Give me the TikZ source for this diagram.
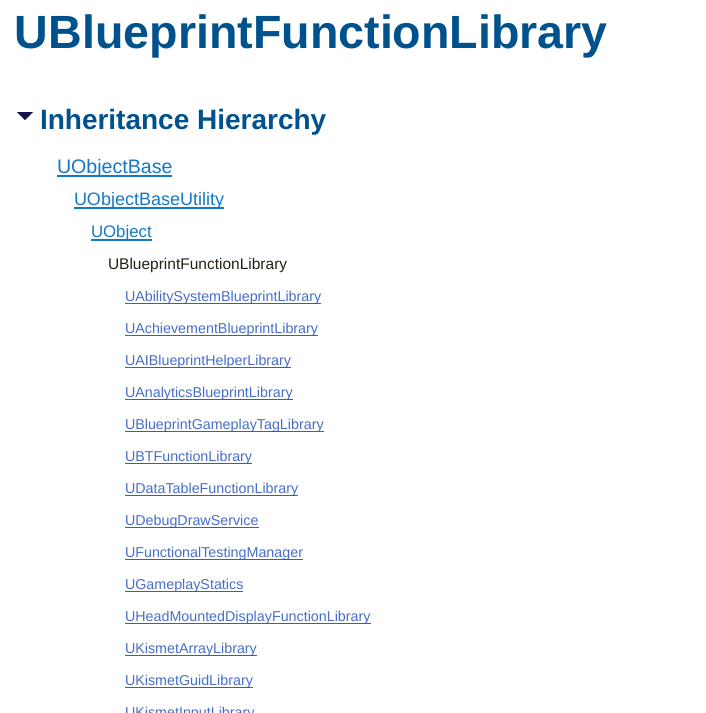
\documentclass[tikz,border=0pt]{standalone}
\usepackage{fontspec}
\setmainfont{Liberation Sans}
\definecolor{titleblue}{RGB}{0,82,140}
\definecolor{navy}{RGB}{20,20,80}
\definecolor{linkblue}{RGB}{20,120,195}
\definecolor{subblue}{RGB}{70,110,200}
\definecolor{ulblue}{RGB}{0,120,200}
\definecolor{plain}{RGB}{40,30,20}
\tikzset{
    every node/.style={inner sep=0pt, outer sep=0pt, anchor=base west},
    title/.style={text=titleblue, font=\fontsize{46.6}{46.6}\selectfont\bfseries},
    heading/.style={text=titleblue, font=\fontsize{28}{28}\selectfont\bfseries},
    link/.style={text=linkblue},
    sublink/.style={text=subblue, font=\fontsize{14.3}{14.3}\selectfont},
    ul/.style={line width=1.2pt},
}
\begin{document}
\begin{tikzpicture}[x=1pt,y=-1pt]
    \useasboundingbox (0,0) rectangle (705,713);
    \clip (0,0) rectangle (705,713);
    \node[title] (title) at (15,48) {UBlueprintFunctionLibrary};
    \fill[navy] (17,112) -- (33,112) -- (25,120) -- cycle;
    \node[heading] (inh) at (40,129) {Inheritance Hierarchy};
    % parents
    \node[link, font=\fontsize{19.6}{19.6}\selectfont] (base) at (57,173) {UObjectBase};
    \node[link, font=\fontsize{18}{18}\selectfont] (util) at (74,205) {UObjectBaseUtility};
    \node[link, font=\fontsize{16.8}{16.8}\selectfont] (uobj) at (91,237) {UObject};
    \foreach \n in {base,util,uobj}{
        \draw[ul, linkblue] ([yshift=-3]\n.base west) -- ([yshift=-3]\n.base east);
    }
    \node[text=plain, font=\fontsize{15.5}{15.5}\selectfont] (self) at (108,269) {UBlueprintFunctionLibrary};
    % children
    \foreach \name [count=\i from 0] in {UAbilitySystemBlueprintLibrary, UAchievementBlueprintLibrary,
        UAIBlueprintHelperLibrary, UAnalyticsBlueprintLibrary, UBlueprintGameplayTagLibrary,
        UBTFunctionLibrary, UDataTableFunctionLibrary, UDebugDrawService, UFunctionalTestingManager,
        UGameplayStatics, UHeadMountedDisplayFunctionLibrary, UKismetArrayLibrary,
        UKismetGuidLibrary, UKismetInputLibrary}{
        \node[sublink] (c\i) at (125,{301+32*\i}) {\name};
        \draw[ul, ulblue] ([yshift=-2.5]c\i.base west) -- ([yshift=-2.5]c\i.base east);
    }
\end{tikzpicture}
\end{document}
